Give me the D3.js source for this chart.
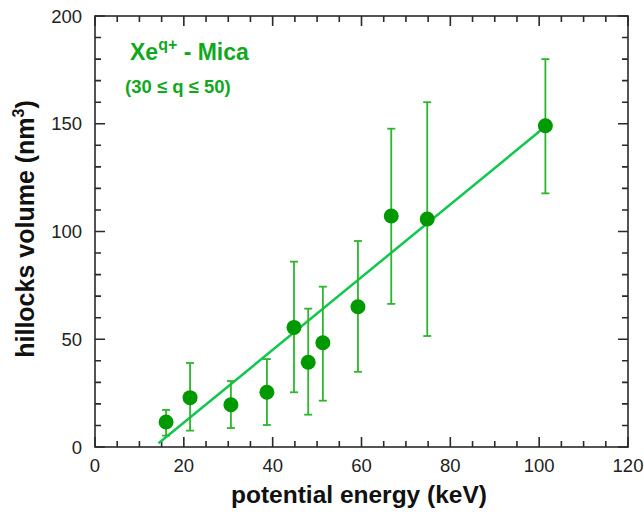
<!DOCTYPE html>
<html>
<head>
<meta charset="utf-8">
<script src="https://cdn.jsdelivr.net/npm/d3@7"></script>
<style>
  body { margin: 0; background: #fff; }
  text { font-family: "Liberation Sans", Arial, sans-serif; }
</style>
</head>
<body>
<div id="canvas"></div>
<script>
// data
const energy = [16.0, 21.4, 30.6, 38.7, 44.8, 48.0, 51.3, 59.2, 66.7, 74.8, 101.4]; // keV
const volume = [11.6, 22.9, 19.6, 25.4, 55.5, 39.3, 48.4, 65.1, 107.2, 105.8, 149.1]; // nm^3
const errHigh = [17.2, 39.0, 30.6, 40.8, 86.0, 64.2, 74.4, 95.6, 147.7, 160.0, 180.0];
const errLow = [5.3, 7.6, 8.8, 10.2, 25.4, 15.0, 21.5, 34.9, 66.4, 51.5, 117.7];
const fitX = [14.3, 101.4];
const fitY = [1.7, 148.7];
const xTicks = [0, 20, 40, 60, 80, 100, 120];
const yTicks = [0, 50, 100, 150, 200];

const width = 644, height = 515;
const margin = { top: 16, right: 16, bottom: 68, left: 95 };
const innerW = width - margin.left - margin.right;
const innerH = height - margin.top - margin.bottom;

const svg = d3.select('#canvas').append('svg')
  .attr('width', width).attr('height', height);

const g = svg.append('g').attr('transform', `translate(${margin.left},${margin.top})`);

const x = d3.scaleLinear().domain([0, 120]).range([0, innerW]);
const y = d3.scaleLinear().domain([0, 200]).range([innerH, 0]);

const axisColor = '#2a2a2a';

// frame
g.append('rect').attr('width', innerW).attr('height', innerH)
  .attr('fill', 'none').attr('stroke', axisColor).attr('stroke-width', 1.6);

// ticks on all four sides, pointing inward (major long, minor short)
const xAll = d3.range(0, 121, 5).map(v => ({ v, len: v % 20 === 0 ? 10 : 6 }));
const yAll = d3.range(0, 201, 10).map(v => ({ v, len: v % 50 === 0 ? 10 : 6 }));
let tickPath = '';
xAll.forEach(d => {
  const px = x(d.v);
  tickPath += `M${px},${innerH}V${innerH - d.len}M${px},0V${d.len}`;
});
yAll.forEach(d => {
  const py = y(d.v);
  tickPath += `M0,${py}H${d.len}M${innerW},${py}H${innerW - d.len}`;
});
g.append('path').attr('d', tickPath)
  .attr('fill', 'none').attr('stroke', axisColor).attr('stroke-width', 1.6);

// tick labels
g.append('g').selectAll('text').data(xTicks).join('text')
  .attr('x', d => x(d)).attr('y', innerH + 25)
  .attr('text-anchor', 'middle').attr('font-size', 18.5).attr('fill', '#222')
  .text(d => d);
g.append('g').selectAll('text').data(yTicks).join('text')
  .attr('x', -13).attr('y', d => y(d) + 6.5)
  .attr('text-anchor', 'end').attr('font-size', 18.5).attr('fill', '#222')
  .text(d => d);

// axis titles
svg.append('text').attr('x', 359).attr('y', 503)
  .attr('text-anchor', 'middle').attr('font-size', 24.5).attr('font-weight', 'bold')
  .attr('fill', '#111').text('potential energy (keV)');
const yl = svg.append('text')
  .attr('transform', `translate(34,229) rotate(-90)`)
  .attr('text-anchor', 'middle').attr('font-size', 25).attr('font-weight', 'bold')
  .attr('fill', '#111');
yl.append('tspan').text('hillocks volume (nm');
yl.append('tspan').attr('dy', -10).attr('font-size', 16).text('3');
yl.append('tspan').attr('dy', 10).text(')');

// fit line
g.append('line')
  .attr('x1', x(fitX[0])).attr('y1', y(fitY[0]))
  .attr('x2', x(fitX[1])).attr('y2', y(fitY[1]))
  .attr('stroke', '#10c850').attr('stroke-width', 2.5);

// error bars
const points = energy.map((e, i) => ({ e, v: volume[i], hi: errHigh[i], lo: errLow[i] }));
const eb = g.append('g').attr('stroke', '#2db52d').attr('stroke-width', 1.8);
eb.selectAll('.bar').data(points).join('line')
  .attr('x1', d => x(d.e)).attr('x2', d => x(d.e))
  .attr('y1', d => y(d.hi)).attr('y2', d => y(d.lo));
eb.selectAll('.capHi').data(points).join('line')
  .attr('x1', d => x(d.e) - 4).attr('x2', d => x(d.e) + 4)
  .attr('y1', d => y(d.hi)).attr('y2', d => y(d.hi));
eb.selectAll('.capLo').data(points).join('line')
  .attr('x1', d => x(d.e) - 4).attr('x2', d => x(d.e) + 4)
  .attr('y1', d => y(d.lo)).attr('y2', d => y(d.lo));

// markers
g.append('g').selectAll('circle').data(points).join('circle')
  .attr('cx', d => x(d.e)).attr('cy', d => y(d.v)).attr('r', 7.5)
  .attr('fill', '#009a00');

// annotation
const t1 = svg.append('text').attr('x', 130).attr('y', 60)
  .attr('font-size', 23).attr('font-weight', 'bold').attr('fill', '#12a81e');
t1.append('tspan').text('Xe');
t1.append('tspan').attr('dy', -10).attr('font-size', 16).text('q+');
t1.append('tspan').attr('dy', 10).text(' - Mica');
svg.append('text').attr('x', 125).attr('y', 93)
  .attr('font-size', 18.5).attr('font-weight', 'bold').attr('fill', '#12a81e')
  .text('(30 ≤ q ≤ 50)');
</script>
</body>
</html>
